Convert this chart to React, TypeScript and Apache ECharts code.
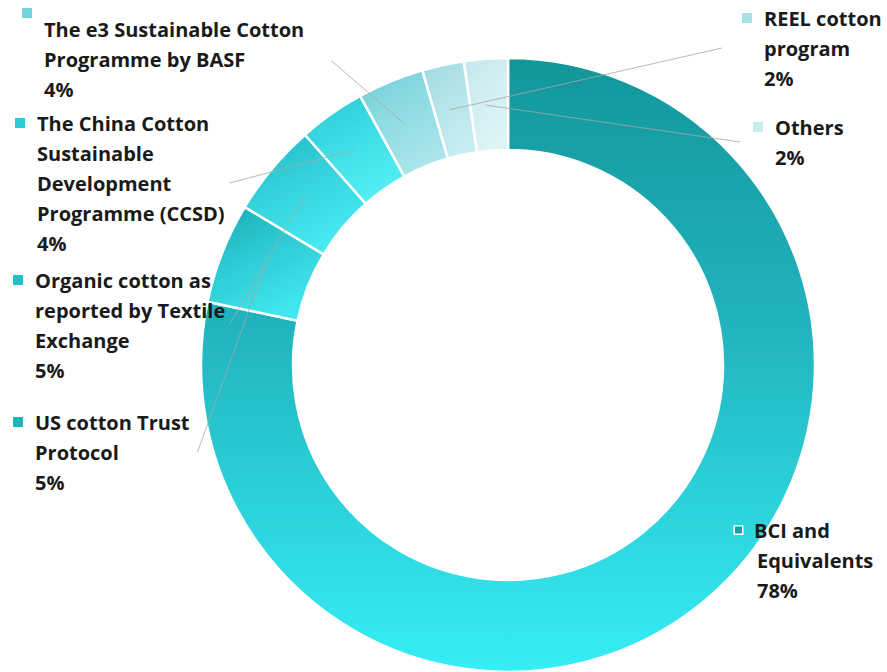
import React, { useEffect, useRef } from 'react';
import * as echarts from 'echarts';

// ---- data ----
const categories = [
  'BCI and\nEquivalents',
  'US cotton Trust\nProtocol',
  'Organic cotton as\nreported by Textile\nExchange',
  'The China Cotton\nSustainable\nDevelopment\nProgramme (CCSD)',
  'The e3 Sustainable Cotton\nProgramme by BASF',
  'REEL cotton\nprogram',
  'Others',
];
const shares = [78.3, 5.3, 4.9, 3.5, 3.5, 2.2, 2.3];

// ---- styles ----
const sliceTop = ['#12969a', '#19aab3', '#1fb8c1', '#29c6cf', '#6fcfd9', '#9fdae2', '#c3e7eb'];
const sliceMid = ['#22b5bf', '#2cc8d1', '#33d0d9', '#3cdbe3', '#8cdae2', '#b2e3e8', '#d0eef1'];
const sliceBottom = ['#36eef6', '#42e6ee', '#48e9f1', '#52edf4', '#aae5eb', '#c6edf1', '#def4f6'];
const markerColors = ['#1c9ea6', '#1fb3bc', '#22bfc8', '#2ccbd4', '#72d3dd', '#a6dfe5', '#c9ecef'];

const labelBoxes = [
  { x: 735, y: 515, side: 'left', gap: 0, markerAbove: false },
  { x: 13, y: 407, side: 'right', gap: 8, markerAbove: false },
  { x: 13, y: 265, side: 'right', gap: 4, markerAbove: false },
  { x: 15, y: 108, side: 'right', gap: 5, markerAbove: false },
  { x: 22, y: 12, side: 'right', gap: 27, markerAbove: true },
  { x: 742, y: 3, side: 'left', gap: 20, markerAbove: false },
  { x: 753, y: 112, side: 'left', gap: 13, markerAbove: false },
];

const LINE_H = 30;
const CENTER = [508, 365];
const RADIUS = [215, 307];

export default function App() {
  const ref = useRef<HTMLDivElement>(null);

  useEffect(() => {
    if (!ref.current) return;
    const chart = echarts.init(ref.current, null, { renderer: 'svg' });

    const rich: any = {
      t: { fontFamily: 'Open Sans', fontWeight: 'bold', fontSize: 20, color: '#1a1a1a', lineHeight: LINE_H },
      g: { width: 12, lineHeight: LINE_H },
      s: { width: 22, lineHeight: LINE_H },
    };
    markerColors.forEach((c, i) => {
      if (i === 0) {
        rich['m' + i] = { width: 7, height: 7, backgroundColor: c, borderColor: '#ffffff', borderWidth: 1.5, lineHeight: LINE_H };
      } else if (labelBoxes[i].markerAbove) {
        rich['m' + i] = { width: 10, height: 10, backgroundColor: c, lineHeight: 2 };
      } else {
        rich['m' + i] = { width: 10, height: 10, backgroundColor: c, lineHeight: LINE_H };
      }
    });

    const formatter = (p: any) => {
      const i = p.dataIndex;
      const lines = String(p.name).split('\n');
      lines.push(Math.round(p.value) + '%');
      const out: string[] = [];
      if (labelBoxes[i].markerAbove) {
        out.push(`{m${i}|}`);
        lines.forEach((l) => out.push(`{s|}{t|${l}}`));
      } else {
        lines.forEach((l, k) => {
          out.push(k === 0 ? `{m${i}|}{g|}{t|${l}}` : `{s|}{t|${l}}`);
        });
      }
      return out.join('\n');
    };

    const option: any = {
      animation: false,
      backgroundColor: '#ffffff',
      series: [
        {
          type: 'pie',
          z: 2,
          center: CENTER,
          radius: RADIUS,
          startAngle: 90,
          clockwise: true,
          silent: true,
          itemStyle: { borderColor: '#ffffff', borderWidth: 2.5 },
          label: { show: false },
          labelLine: { show: false },
          data: categories.map((name, i) => ({
            name,
            value: shares[i],
            itemStyle: {
              color: {
                type: 'linear',
                x: 0,
                y: 0,
                x2: i === 0 ? 0 : 0.5,
                y2: 1,
                colorStops: [
                  { offset: 0, color: sliceTop[i] },
                  { offset: 0.45, color: sliceMid[i] },
                  { offset: 1, color: sliceBottom[i] },
                ],
              },
            },
          })),
        },
        {
          // transparent overlay carrying the labels and leader lines above the ring
          type: 'pie',
          z: 5,
          center: CENTER,
          radius: RADIUS,
          startAngle: 90,
          clockwise: true,
          silent: true,
          avoidLabelOverlap: false,
          itemStyle: { color: 'rgba(0,0,0,0)', borderWidth: 0 },
          label: {
            show: true,
            position: 'outside',
            alignTo: 'none',
            lineHeight: LINE_H,
            formatter,
            rich,
          },
          labelLine: {
            show: true,
            length: 10,
            length2: 10,
            lineStyle: { color: '#aaa6a8', width: 0.8 },
          },
          labelLayout: (p: any) => {
            const i = p.dataIndex;
            const L = labelBoxes[i];
            const w = p.labelRect.width;
            const h = p.labelRect.height;
            const cx = p.rect.x + p.rect.width / 2;
            const cy = p.rect.y + p.rect.height / 2;
            const ax = L.side === 'right' ? L.x + w + L.gap : L.x - L.gap;
            const ay = L.y + h / 2;
            return {
              x: L.x,
              y: L.y,
              align: 'left',
              verticalAlign: 'top',
              labelLinePoints: [[ax, ay], [(ax + cx) / 2, (ay + cy) / 2], [cx, cy]],
            };
          },
          data: categories.map((name, i) => ({
            name,
            value: shares[i],
            labelLine: { show: i !== 0 },
          })),
        },
      ],
    };

    chart.setOption(option);
    return () => chart.dispose();
  }, []);

  return (
    <div
      ref={ref}
      style={{ position: 'fixed', left: 0, top: 0, width: 887, height: 672, background: '#ffffff' }}
    />
  );
}
